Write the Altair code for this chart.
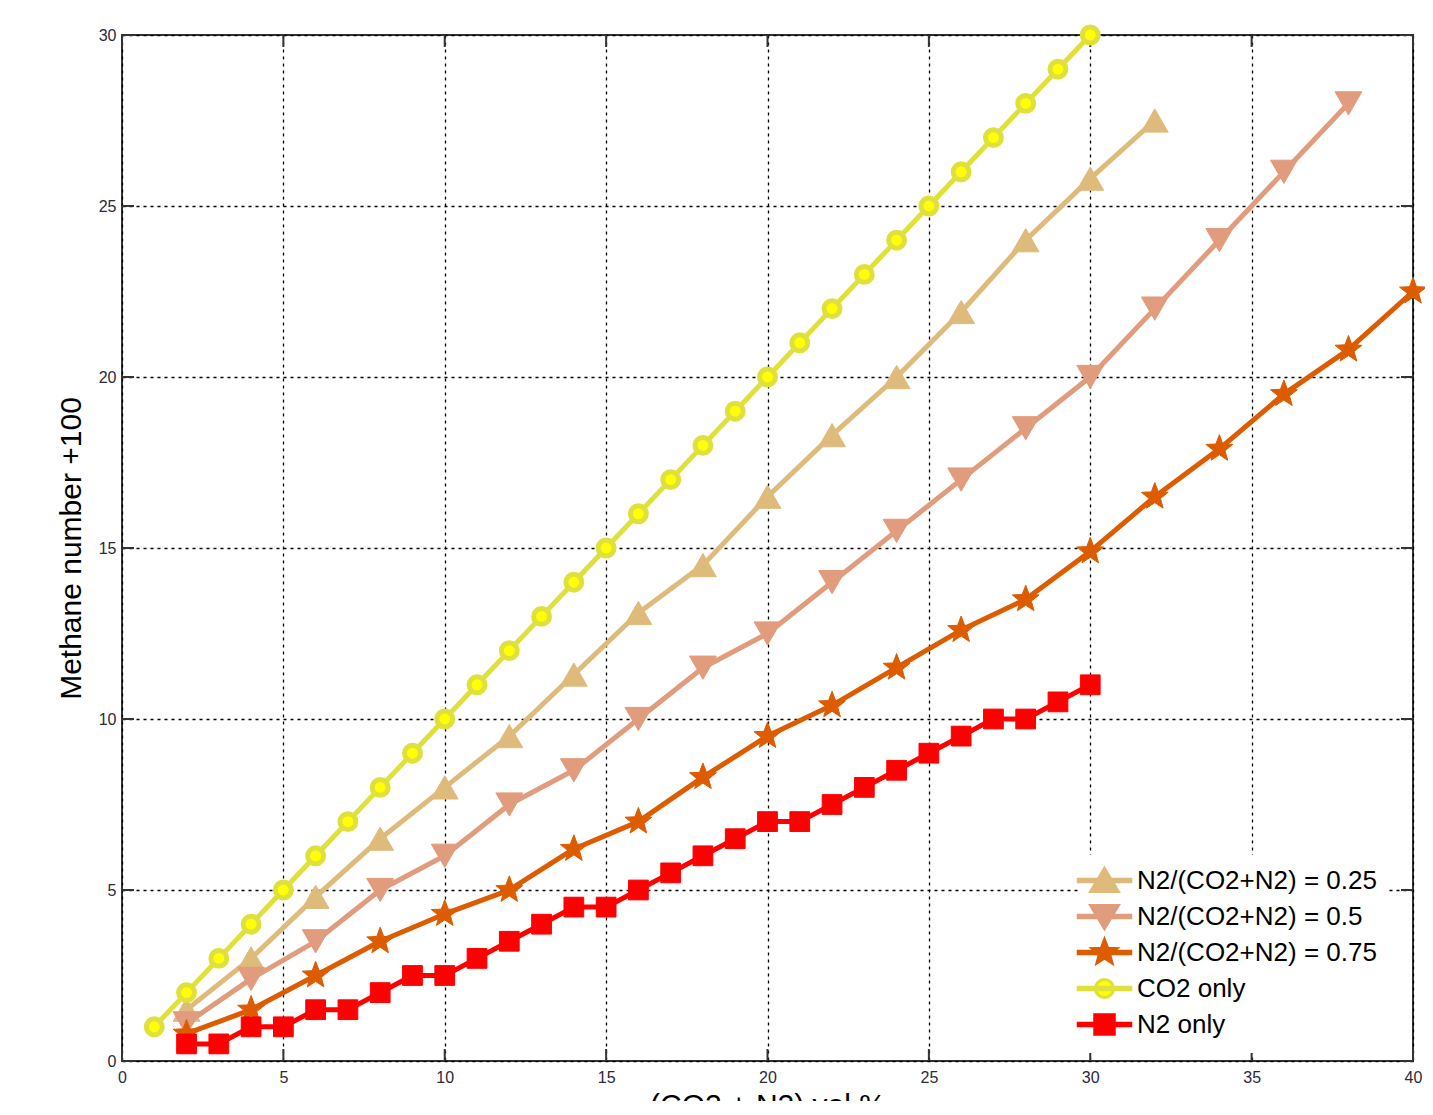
import altair as alt
import pandas as pd
import numpy as np

# ---------------- data ----------------
series_names = ["N2/(CO2+N2) = 0.25", "N2/(CO2+N2) = 0.5", "N2/(CO2+N2) = 0.75", "CO2 only", "N2 only"]

x_025 = [2, 4, 6, 8, 10, 12, 14, 16, 18, 20, 22, 24, 26, 28, 30, 32]
y_025 = [1.5, 3.0, 4.8, 6.5, 8.0, 9.5, 11.3, 13.1, 14.5, 16.5, 18.3, 20.0, 21.9, 24.0, 25.8, 27.5]

x_05 = [2, 4, 6, 8, 10, 12, 14, 16, 18, 20, 22, 24, 26, 28, 30, 32, 34, 36, 38]
y_05 = [1.1, 2.4, 3.5, 5.0, 6.0, 7.5, 8.5, 10.0, 11.5, 12.5, 14.0, 15.5, 17.0, 18.5, 20.0, 22.0, 24.0, 26.0, 28.0]

x_075 = [2, 4, 6, 8, 10, 12, 14, 16, 18, 20, 22, 24, 26, 28, 30, 32, 34, 36, 38, 40]
y_075 = [0.8, 1.5, 2.5, 3.5, 4.3, 5.0, 6.2, 7.0, 8.3, 9.5, 10.4, 11.5, 12.6, 13.5, 14.9, 16.5, 17.9, 19.5, 20.8, 22.5]

x_co2 = [1, 2, 3, 4, 5, 6, 7, 8, 9, 10, 11, 12, 13, 14, 15, 16, 17, 18, 19, 20,
         21, 22, 23, 24, 25, 26, 27, 28, 29, 30]
y_co2 = [1, 2, 3, 4, 5, 6, 7, 8, 9, 10, 11, 12, 13, 14, 15, 16, 17, 18, 19, 20,
         21, 22, 23, 24, 25, 26, 27, 28, 29, 30]

x_n2 = [2, 3, 4, 5, 6, 7, 8, 9, 10, 11, 12, 13, 14, 15, 16, 17, 18, 19, 20,
        21, 22, 23, 24, 25, 26, 27, 28, 29, 30]
y_n2 = [0.5, 0.5, 1.0, 1.0, 1.5, 1.5, 2.0, 2.5, 2.5, 3.0, 3.5, 4.0, 4.5, 4.5, 5.0, 5.5,
        6.0, 6.5, 7.0, 7.0, 7.5, 8.0, 8.5, 9.0, 9.5, 10.0, 10.0, 10.5, 11.0]

x_ticks = [0, 5, 10, 15, 20, 25, 30, 35, 40]
y_ticks = [0, 5, 10, 15, 20, 25, 30]

# ---------------- styling ----------------
W, H = 1291, 1026
stroke_cols = ["#DFBB7B", "#E09C7C", "#DD5C00", "#E0E03C", "#FF0000"]
fill_cols = ["#DFBB7B", "#E09C7C", "#DD5C00", "#FFFF00", "#FF0000"]


def star_path(ro, ri):
    pts = []
    for k in range(10):
        ang = -np.pi / 2 + k * np.pi / 5
        r = ro if k % 2 == 0 else ri
        pts.append(f"{r*np.cos(ang):.3f},{r*np.sin(ang):.3f}")
    return "M" + "L".join(pts) + "Z"


STAR = star_path(1.0, 0.42)

# legend symbol paths (1 unit = 15px for symbolSize 900); the leading moves fix equal bounds
BOX = "M-1.75,-0.85M-1.75,0.85"
LINE = BOX + "M-1.75,-0.08H1.75V0.08H-1.75Z"
leg_paths = [
    LINE + "M0,-0.8L0.92,0.74L-0.92,0.74Z",
    LINE + "M0,0.8L0.92,-0.74L-0.92,-0.74Z",
    LINE + star_path(0.85, 0.36),
    LINE + "M-0.6,0A0.6,0.6 0 1,0 0.6,0A0.6,0.6 0 1,0 -0.6,0Z",
    LINE + "M-0.65,-0.65H0.65V0.65H-0.65Z",
]

rows = []
for name, xs, ys in zip(series_names,
                        [x_025, x_05, x_075, x_co2, x_n2],
                        [y_025, y_05, y_075, y_co2, y_n2]):
    for a, b in zip(xs, ys):
        rows.append({"series": name, "x": a, "y": b})
df = pd.DataFrame(rows)

xscale = alt.Scale(domain=[0, 40], nice=False, zero=False)
yscale = alt.Scale(domain=[0, 30], nice=False, zero=False)
label_col = "#2a2a3a"
grid_kw = dict(grid=True, gridDash=[3, 4], gridColor="#000000", gridWidth=1.3, gridOpacity=1,
               ticks=False, domain=False, labelFontSize=16, labelFlush=False, labelColor=label_col,
               labelFont="Liberation Sans", titleFontSize=30, titleFont="Liberation Sans",
               titleFontWeight="normal", titleColor="#000000")
xaxis = alt.Axis(values=x_ticks, labelPadding=8, title="(CO2 + N2) vol %", titlePadding=5, **grid_kw)
yaxis = alt.Axis(values=y_ticks, labelPadding=6, title="Methane number +100", titlePadding=12, **grid_kw)

X = alt.X("x:Q", scale=xscale, axis=xaxis)
Y = alt.Y("y:Q", scale=yscale, axis=yaxis)

base = alt.Chart(df)

# inward ticks (frame decorations) drawn through the scales
xt = alt.Chart(pd.DataFrame({"x": x_ticks}))
yt = alt.Chart(pd.DataFrame({"y": y_ticks}))
tick_style = dict(color="#333333", strokeWidth=2)
ticks = [
    xt.mark_rule(**tick_style).encode(x=X, y=alt.value(H), y2=alt.value(H - 12)),
    xt.mark_rule(**tick_style).encode(x=X, y=alt.value(0), y2=alt.value(12)),
    yt.mark_rule(**tick_style).encode(y=Y, x=alt.value(0), x2=alt.value(12)),
    yt.mark_rule(**tick_style).encode(y=Y, x=alt.value(W), x2=alt.value(W - 12)),
]

layers = list(ticks)
shapes = ["triangle-up", "triangle-down", STAR, "circle", "square"]
sizes = [720, 720, 800, 254, 390]
for i, name in enumerate(series_names):
    sub = base.transform_filter(alt.datum.series == name)
    layers.append(sub.mark_line(color=stroke_cols[i], strokeWidth=5, strokeJoin="round").encode(x=X, y=Y))
    if i == 3:
        pt = sub.mark_point(shape="circle", filled=True, fill=fill_cols[i], stroke=stroke_cols[i],
                            strokeWidth=5, size=sizes[i], opacity=1)
    else:
        pt = sub.mark_point(shape=shapes[i], filled=True, fill=fill_cols[i], stroke=stroke_cols[i],
                            strokeWidth=1, size=sizes[i], opacity=1)
    layers.append(pt.encode(x=X, y=Y))

# legend layer (no marks drawn, only the legend)
leg = alt.Legend(title=None, orient="none", legendX=957, legendY=820, symbolSize=900,
                 labelFontSize=26, labelFont="Liberation Sans", labelColor="#000000",
                 fillColor="#FFFFFF", padding=9, rowPadding=-3.7, labelOffset=16, labelLimit=500)
legend_layer = base.transform_filter("false").mark_point(filled=True, opacity=1).encode(
    shape=alt.Shape("series:N", scale=alt.Scale(domain=series_names, range=leg_paths), legend=leg),
    fill=alt.Fill("series:N", scale=alt.Scale(domain=series_names, range=fill_cols), legend=leg),
    stroke=alt.Stroke("series:N", scale=alt.Scale(domain=series_names, range=stroke_cols), legend=leg),
    strokeWidth=alt.StrokeWidth("series:N", scale=alt.Scale(domain=series_names, range=[3, 3, 3, 5, 3]),
                                legend=leg),
)
layers.append(legend_layer)

chart = alt.layer(*layers).properties(
    width=W, height=H,
    autosize=alt.AutoSizeParams(type="none"),
    padding={"left": 114, "top": 27, "right": 12, "bottom": 40},
    background="#FFFFFF",
).configure_view(stroke="#333333", strokeWidth=2)

chart.save("out.html", embed_options={"renderer": "svg", "actions": False})
